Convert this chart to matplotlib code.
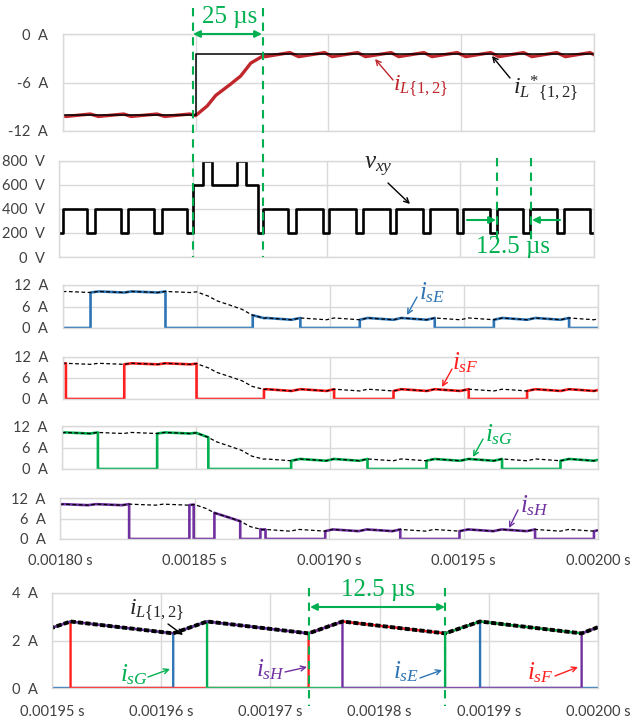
import numpy as np
import matplotlib
matplotlib.use("Agg")
import matplotlib.pyplot as plt
from matplotlib.ticker import FuncFormatter

plt.rcParams["font.family"] = ["Lato", "DejaVu Sans"]
plt.rcParams["mathtext.fontset"] = "custom"
plt.rcParams["mathtext.rm"] = "Liberation Serif"
plt.rcParams["mathtext.it"] = "Liberation Serif:italic"
plt.rcParams["mathtext.bf"] = "Liberation Serif:bold"

W, H = 633, 724
T0 = 0.00180  # s, left edge of the upper panels

# |iL{1,2}| in A, time in us after T0
IL_T = [0.0, 1.2, 10.4, 13.4, 23.0, 25.7, 35.5, 38.4, 47.8, 50.0,
        54.4, 57.6, 63.2, 67.0, 70.8, 75.2, 76.2, 85.5, 88.8, 98.6,
        101.4, 111.0, 114.0, 123.6, 126.5, 136.0, 139.0, 148.5, 151.7, 161.1,
        164.2, 173.5, 176.6, 186.0, 189.2, 198.5, 200.0]
IL_V = [10.1, 10.2, 9.9, 10.2, 9.9, 10.2, 9.9, 10.2, 9.9, 10.1,
        8.9, 7.6, 6.2, 5.2, 3.6, 2.75, 2.8, 2.3, 2.8, 2.3,
        2.8, 2.3, 2.8, 2.3, 2.8, 2.3, 2.8, 2.3, 2.8, 2.3,
        2.8, 2.3, 2.8, 2.3, 2.8, 2.3, 2.56]

# reference iL*{1,2}
REF_T = [0.0, 50.0, 50.0, 200.0]
REF_V = [-10.0, -10.0, -2.5, -2.5]

# vxy levels (V), each held until the next time
VXY_T = [0.0, 1.4, 10.4, 13.4, 23.0, 25.7, 35.4, 38.4, 47.8, 50.0,
         53.8, 57.3, 66.5, 70.0, 74.4, 76.2, 85.5, 88.6, 98.6, 101.1,
         111.1, 113.6, 123.6, 126.1, 136.1, 138.6, 148.6, 151.1, 161.1, 163.6,
         173.6, 176.1, 186.1, 188.6, 198.6, 200.0]
VXY_V = [200, 400, 200, 400, 200, 400, 200, 400, 200, 600,
         800, 600, 800, 600, 200, 400, 200, 400, 200, 400,
         200, 400, 200, 400, 200, 400, 200, 400, 200, 400,
         200, 400, 200, 400, 200, 200]

# conduction intervals of each switch (us after T0)
ON_E = [(10.4, 38.4), (71.0, 88.8), (111.0, 139.0), (161.1, 189.2)]
ON_F = [(0.0, 1.2), (23.0, 50.0), (75.2, 101.4), (123.6, 151.7), (173.5, 200.0)]
ON_G = [(0.0, 13.4), (35.5, 54.6), (85.5, 114.0), (136.0, 164.2), (186.0, 200.0)]
ON_H = [(0.0, 25.7), (48.1, 49.7), (57.4, 67.0), (74.5, 76.4),
        (98.6, 126.5), (148.5, 176.6), (198.5, 200.0)]

C_E, C_F, C_G, C_H = "#2e75b6", "#ff1f1f", "#00b050", "#7030a0"
C_IL = "#c0272d"
C_GRID = "#d9d9d9"
C_TXT = "#404040"
GREEN = "#00b050"


def sec(t_us):
    return T0 + np.asarray(t_us) * 1e-6


def switch_current(intervals):
    il_t = np.array(IL_T)
    il_v = np.array(IL_V)
    ts, vs = [], []
    if intervals[0][0] > 0:
        ts.append(0.0)
        vs.append(0.0)
    for a, b in intervals:
        if a > 0:
            ts.append(a)
            vs.append(0.0)
        ts.append(a)
        vs.append(np.interp(a, il_t, il_v))
        inside = (il_t > a) & (il_t < b)
        ts += list(il_t[inside])
        vs += list(il_v[inside])
        ts.append(b)
        vs.append(np.interp(b, il_t, il_v))
        if b < 200:
            ts.append(b)
            vs.append(0.0)
    if intervals[-1][1] < 200:
        ts.append(200.0)
        vs.append(0.0)
    return np.array(ts), np.array(vs)


fig = plt.figure(figsize=(W / 100, H / 100), dpi=100)


def make_ax(l, t, r, b, ylim, yticks, unit, xlim, xticks, show_x=False):
    ax = fig.add_axes([l / W, 1 - b / H, (r - l) / W, (b - t) / H])
    ax.set_xlim(*xlim)
    ax.set_ylim(*ylim)
    ax.set_xticks(xticks)
    ax.set_yticks(yticks)
    ax.set_yticklabels([f"{v:g}  {unit}" for v in yticks])
    ax.xaxis.set_major_formatter(FuncFormatter(lambda v, p: f"{v:.5f} s"))
    ax.grid(color=C_GRID, lw=1)
    ax.set_axisbelow(True)
    for s in ax.spines.values():
        s.set_color(C_GRID)
        s.set_linewidth(1)
    ax.tick_params(length=0, labelsize=10.5, labelcolor=C_TXT, pad=10.5,
                   labelbottom=show_x)
    return ax


X_UP = (T0, T0 + 200e-6)
XT_UP = [T0 + k * 50e-6 for k in range(5)]

# top: inductor current and reference
ax1 = make_ax(62.7, 34, 594, 131, (-12, 0), [-12, -6, 0], "A", X_UP, XT_UP)
ax1.plot(sec(IL_T), -np.array(IL_V), color=C_IL, lw=2.4, solid_joinstyle="round")
ax1.plot(sec(REF_T), REF_V, color="black", lw=1.1)

# vxy
ax2 = make_ax(59, 160.7, 594, 257, (0, 800), [0, 200, 400, 600, 800], "V", X_UP, XT_UP)
ax2.plot(sec(VXY_T), VXY_V, color="black", lw=1.9, drawstyle="steps-post")

# switch currents
panels = [
    (ON_E, C_E, 62.7, 285, 598, 328),
    (ON_F, C_F, 62.7, 357, 598, 399),
    (ON_G, C_G, 62, 426, 598, 469),
    (ON_H, C_H, 60, 498, 598, 539),
]
for i, (on, col, l, t, r, b) in enumerate(panels):
    ax = make_ax(l, t, r, b, (0, 12), [0, 6, 12], "A", X_UP, XT_UP, show_x=(i == 3))
    st, sv = switch_current(on)
    ax.plot(sec(st), sv, color=col, lw=1.9)
    ax.plot(sec(IL_T), IL_V, color="black", lw=0.9, ls=(0, (3, 2)))

# zoomed bottom panel
X_LO = (T0 + 150e-6, T0 + 200e-6)
XT_LO = [T0 + k * 10e-6 for k in range(15, 21)]
ax7 = make_ax(52, 593, 598, 688, (0, 4), [0, 2, 4], "A", X_LO, XT_LO, show_x=True)
ax7.tick_params(axis="x", pad=12)
for on, col in [(ON_E, C_E), (ON_F, C_F), (ON_G, C_G), (ON_H, C_H)]:
    st, sv = switch_current(on)
    ax7.plot(sec(st), sv, color=col, lw=1.7)
ax7.plot(sec(IL_T), IL_V, color="black", lw=2.8, ls=(0, (1.3, 0.6)))

# overlay for annotations, in pixels from the top-left corner
ov = fig.add_axes([0, 0, 1, 1])
ov.set_xlim(0, W)
ov.set_ylim(H, 0)
ov.set_axis_off()
ov.patch.set_alpha(0)


def arrow(x0, y0, x1, y1, color, style="-|>", lw=1.0, ms=9):
    ov.annotate("", xy=(x1, y1), xytext=(x0, y0),
                arrowprops=dict(arrowstyle=style, color=color, lw=lw,
                                shrinkA=0, shrinkB=0, mutation_scale=ms))


def label(x, y, s, color, size=16, family=None):
    kw = {"family": family} if family else {}
    ov.text(x, y, s, color=color, fontsize=size, ha="center", va="center", **kw)


def gline(x, y0, y1):
    ov.plot([x, x], [y0, y1], color=GREEN, lw=1.5, ls=(0, (4, 3)))


SERIF = ["Liberation Serif", "DejaVu Serif"]

gline(192.5, 8, 257)
gline(262.5, 8, 257)
arrow(193, 34, 262, 34, GREEN, style="<|-|>", lw=1.5, ms=10)
label(230, 17, "25 µs", GREEN, size=18, family=SERIF)

gline(496.7, 158, 241)
gline(531, 158, 241)
arrow(467, 220, 496, 220, GREEN, lw=1.5, ms=10)
arrow(560, 220, 532, 220, GREEN, lw=1.5, ms=10)
label(513, 247, "12.5 µs", GREEN, size=18, family=SERIF)

gline(309.3, 588, 706)
gline(445, 588, 706)
arrow(310, 607, 445, 607, GREEN, style="<|-|>", lw=1.5, ms=10)
label(378, 590, "12.5 µs", GREEN, size=18, family=SERIF)

label(421, 86, r"$i_{L\{\mathit{1,2}\}}$", C_IL, size=17)
arrow(393, 80, 375, 59, C_IL, style="->")
label(545, 88, r"$i_{L}{}^{*}{}_{\{\mathit{1,2}\}}$", "#262626", size=17)
arrow(510, 78, 492, 56, "black", style="->")
label(378, 167, r"$v_{xy}$", "#262626", size=18)
arrow(388, 183, 410, 204, "black", style="->")

label(432, 293, r"$i_{sE}$", C_E, size=18)
arrow(417, 297, 407, 315, C_E, style="->")
label(465, 363, r"$i_{sF}$", C_F, size=18)
arrow(452, 369, 442, 387, C_F, style="->")
label(499, 435, r"$i_{sG}$", C_G, size=18)
arrow(483, 439, 473, 457, C_G, style="->")
label(535, 506, r"$i_{sH}$", C_H, size=18)
arrow(518, 510, 509, 528, C_H, style="->")

label(157, 610, r"$i_{L\{\mathit{1,2}\}}$", "#262626", size=17)
arrow(168, 624, 183, 635, "black", style="->")
label(134, 675, r"$i_{sG}$", C_G, size=18)
arrow(148, 677, 170, 669, C_G, style="->")
label(271, 670, r"$i_{sH}$", C_H, size=18)
arrow(285, 672, 307, 667, C_H, style="->")
label(406, 672, r"$i_{sE}$", C_E, size=18)
arrow(420, 678, 442, 670, C_E, style="->")
label(540, 673, r"$i_{sF}$", C_F, size=18)
arrow(555, 676, 578, 667, C_F, style="->")

fig.savefig("out.png", dpi=100)
